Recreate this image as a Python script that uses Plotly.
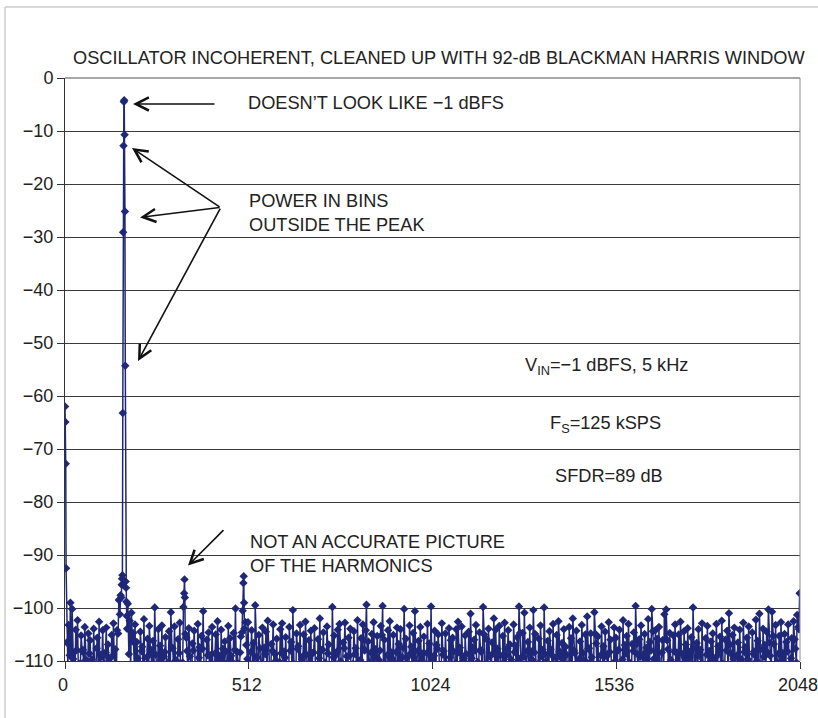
import plotly.graph_objects as go

# ---------------- data ----------------
# noise floor A: bins 5, 10, ..., 2045 (None = inside a tone)
NOISE_A_START, NOISE_A_STEP = 5, 5
noise_a_db = [
    -106.5, -103.2, -99.0, -100.2, -108.4, -104.1, -102.3, -110.6, -105.2, -107.9, -103.6, -112.4, -104.8, -106.1, -109.7, -103.9, -113.5, -105.6, -102.6, -108.8,
    -104.2, -111.3, -103.7, -106.9, -109.5, -105.1, -102.9, -107.8, -104.2, -98.5, -97.6, None, None, None, -99.2, -102.4, -100.9, -104.7, -103.1, -106.4,
    -110.2, -104.5, -107.3, -102.1, -115.0, -105.8, -103.4, -108.6, -106.2, -99.9, -111.9, -104.0, -107.1, -103.3, -109.2, -105.5, -113.8, -104.4, -100.8, -107.6,
    -103.5, -109.9, -105.9, -102.8, -112.7, -99.8, -104.9, -108.1, -103.8, -110.9, -106.7, -104.3, -116.2, -103.0, -107.4, -105.3, -100.6, -111.5, -106.0, -104.6,
    -108.9, -103.6, -114.4, -105.0, -102.5, -109.0, -104.1, -107.7, -106.3, -111.2, -103.4, -105.7, -110.1, -104.7, -100.1, -108.3, -113.1, -105.4, -100.5, -103.9,
    -107.0, -102.7, -110.4, -104.2, -106.6, -99.5, -109.4, -105.1, -112.9, -103.7, -107.5, -104.5, -102.4, -111.0, -106.8, -103.1, -108.7, -105.8, -115.3, -104.0,
    -102.9, -108.2, -105.5, -110.8, -103.6, -106.4, -100.4, -113.7, -104.8, -107.2, -103.2, -109.6, -105.0, -102.6, -111.6, -106.1, -104.3, -108.5, -103.8, -117.0,
    -105.9, -102.0, -107.9, -104.6, -110.3, -103.5, -106.9, -112.2, -99.8, -105.2, -108.8, -104.1, -103.0, -114.6, -106.5, -102.8, -109.1, -105.6, -103.9, -111.4,
    -104.4, -107.6, -102.3, -110.0, -105.7, -103.1, -108.0, -99.4, -106.3, -112.5, -104.9, -102.7, -107.8, -105.3, -109.8, -103.4, -99.6, -106.0, -113.2, -104.2,
    -102.5, -108.4, -105.1, -111.1, -103.7, -106.8, -104.0, -109.3, -100.2, -105.8, -115.8, -103.3, -107.3, -104.7, -100.6, -110.5, -106.2, -103.6, -108.6, -105.4,
    -112.0, -103.0, -106.7, -99.7, -109.7, -104.3, -107.0, -105.0, -113.9, -102.9, -108.1, -104.8, -110.7, -103.8, -106.1, -105.6, -111.8, -104.0, -102.6, -107.5,
    -103.5, -109.5, -105.2, -112.8, -104.5, -101.1, -107.4, -106.0, -103.2, -110.2, -104.6, -108.3, -99.8, -114.1, -105.9, -103.9, -109.0, -106.5, -102.0, -104.1,
    -107.7, -103.4, -111.3, -105.3, -102.8, -108.9, -104.2, -106.9, -116.5, -103.1, -107.1, -105.5, -99.7, -109.4, -104.7, -100.9, -110.9, -106.4, -103.7, -108.2,
    -100.4, -104.9, -112.3, -105.8, -103.3, -107.9, -99.9, -110.1, -106.2, -104.4, -108.8, -103.0, -113.4, -105.1, -102.5, -109.2, -106.6, -104.0, -107.3, -111.7,
    -103.6, -105.7, -102.0, -108.5, -104.3, -114.9, -106.3, -103.2, -109.8, -105.0, -101.6, -107.6, -104.8, -112.1, -100.8, -106.7, -105.4, -110.6, -103.5, -107.2,
    -104.5, -109.1, -102.7, -106.0, -111.5, -103.7, -105.6, -108.0, -104.1, -115.5, -102.3, -107.0, -105.3, -103.0, -110.4, -106.8, -104.6, -99.6, -108.7, -105.9,
    -103.3, -112.6, -104.9, -107.5, -102.1, -106.4, -100.2, -109.6, -104.2, -105.8, -103.6, -111.0, -106.1, -101.2, -100.3, -107.8, -104.7, -113.6, -105.2, -103.1,
    -108.4, -105.0, -102.6, -110.8, -104.4, -106.9, -103.8, -109.3, -105.5, -99.9, -114.0, -106.6, -104.0, -107.9, -102.9, -111.2, -105.7, -103.4, -108.1, -106.3,
    -104.8, -110.0, -103.0, -107.2, -105.4, -102.4, -112.9, -106.0, -104.3, -101.0, -108.6, -105.1, -103.7, -116.8, -106.5, -104.1, -109.7, -102.8, -107.4, -105.6,
    -103.5, -111.4, -104.6, -108.2, -102.2, -106.2, -101.1, -113.3, -103.9, -107.0, -104.5, -100.3, -109.0, -100.7, -106.8, -103.2, -110.3, -105.3, -102.7, -108.5,
    -104.9, -106.4, -103.1, -111.8, -105.7, -102.5, -107.7, -101.3, -104.0,
]

# noise floor B: bins 8, 13, ..., 2043 (None = inside a tone)
NOISE_B_START, NOISE_B_STEP = 8, 5
noise_b_db = [
    -111.5, -108.9, -114.2, -109.6, -112.8, -107.9, -115.6, -110.4, -108.2, -113.1, -109.8, -116.4, -108.6, -111.9, -110.7, -113.8, -107.6, -112.3, -114.9, -109.2,
    -112.6, -108.4, -115.1, -110.1, -113.4, -109.0, -111.2, -114.5, -104.8, -101.2, None, None, None, -103.9, -108.7, -112.1, -106.3, -110.9, -113.7, -109.5,
    -114.0, -108.1, -111.6, -116.9, -109.3, -112.9, -107.8, -115.3, -110.6, -108.8, -113.5, -111.0, -109.7, -117.2, -108.3, -112.4, -110.2, -114.7, -107.5, -111.8,
    -109.9, -113.2, -108.5, -115.8, -110.3, None, -105.6, -112.7, -109.1, -114.3, -108.0, -111.4, -116.1, -109.4, -112.0, -107.7, -114.8, -110.8, -108.9, -113.0,
    -111.1, -115.4, -108.6, -112.5, -109.7, -117.6, -110.0, -113.6, -108.2, -111.7, -114.1, -109.0, -112.2, -107.9, -115.9, -110.5, -108.4, -104.6, None, -102.7,
    -109.6, -113.9, -108.3, -111.5, -116.3, -109.2, -112.6, -107.6, -114.4, -110.7, -108.7, -113.3, -111.0, -115.0, -108.1, -112.8, -109.9, -116.7, -110.2, -108.5,
    -113.1, -109.4, -111.9, -115.5, -108.0, -112.3, -110.6, -114.6, -107.7, -111.3, -117.4, -109.1, -113.7, -108.8, -112.0, -110.4, -115.2, -108.4, -111.6, -114.0,
    -109.5, -112.9, -107.9, -116.0, -110.9, -108.6, -113.4, -111.2, -109.3, -115.7, -108.2, -112.5, -110.1, -114.9, -107.6, -111.8, -113.0, -109.0, -116.6, -110.5,
    -108.7, -112.1, -114.5, -109.8, -111.4, -107.8, -104.2, -113.6, -110.3, -108.4, -115.3, -111.0, -109.2, -112.7, -108.0, -105.1, -114.2, -110.7, -108.9, -113.3,
    -111.7, -109.6, -116.2, -108.3, -112.4, -110.0, -114.8, -107.5, -111.1, -109.4, -117.0, -108.6, -113.1, -110.8, -112.0, -108.1, -115.4, -109.9, -111.5, -113.8,
    -108.5, -112.6, -110.2, -115.6, -109.0, -113.5, -107.7, -111.9, -114.3, -108.8, -112.2, -110.6, -116.5, -109.3, -111.3, -108.2, -113.9, -110.9, -108.4, -115.1,
    -110.1, -113.2, -108.7, -111.6, -116.8, -109.5, -112.8, -108.0, -114.7, -110.4, -107.9, -113.0, -105.0, -111.2, -115.8, -109.1, -112.3, -108.6, -114.1, -110.8,
    -112.5, -108.9, -115.0, -110.3, -113.6, -107.6, -111.8, -109.7, -116.1, -108.3, -112.9, -110.0, -104.7, -114.4, -109.2, -111.4, -108.1, -113.3, -115.5, -109.8,
    -108.4, -112.0, -110.6, -114.6, -109.1, -116.4, -108.7, -111.5, -113.1, -107.8, -110.9, -115.2, -109.4, -112.7, -108.2, -114.0, -110.5, -111.9, -108.8, -116.9,
    -110.7, -113.4, -108.0, -111.1, -115.7, -109.6, -112.4, -108.5, -114.2, -110.2, -107.7, -113.8, -109.3, -111.7, -104.9, -112.6, -115.9, -108.9, -110.8, -113.0,
    -109.0, -114.5, -108.3, -111.3, -116.0, -110.0, -112.8, -107.9, -113.5, -109.7, -115.1, -108.6, -111.6, -110.4, -114.8, -108.1, -112.2, -106.8, -113.7, -109.2,
    -111.9, -108.7, -114.9, -110.6, -112.5, -108.0, -104.4, -113.2, -109.5, -111.0, -116.2, -108.4, -112.9, -105.8, -106.1, -114.3, -109.8, -111.4, -108.2, -115.3,
    -110.9, -113.6, -108.6, -112.1, -109.4, -116.7, -110.3, -108.1, -114.1, -111.5, -107.6, -113.0, -109.0, -115.6, -110.7, -112.6, -108.8, -114.6, -110.1, -111.8,
    -113.9, -109.3, -111.2, -108.5, -115.4, -110.5, -112.3, -108.0, -114.0, -106.9, -111.7, -109.6, -116.3, -108.9, -113.1, -110.2, -112.0, -108.3, -115.0, -109.7,
    -111.3, -114.7, -108.7, -112.4, -110.0, -113.7, -107.8, -115.8, -109.2, -111.6, -108.4, -106.5, -113.3, -105.3, -110.8, -112.9, -108.6, -114.4, -109.9, -111.0,
    -113.5, -108.2, -111.9, -109.5, -114.8, -105.9, -110.3, -103.6,
]

# DC leakage, fundamental, harmonics, last bin
feature_bins = [0, 1, 2, 3,
                157, 158, 159, 160, 161, 162, 163, 164, 165, 166, 167, 168, 169, 170, 171, 172,
                332, 333, 334,
                497, 498, 499,
                2047]
feature_db = [-62.0, -64.9, -72.8, -92.5,
              -98.0, -95.6, -94.5, -93.8, -63.2, -29.1, -12.8, -4.5, -4.2, -10.7, -25.2, -54.3, -95.0, -96.2, -98.8, -101.5,
              -97.2, -94.6, -98.0,
              -95.3, -94.0, -99.0,
              -97.2]

x_ticks = [0, 512, 1024, 1536, 2048]
y_ticks = [-110, -100, -90, -80, -70, -60, -50, -40, -30, -20, -10, 0]
y_ticktext = ["−110", "−100", "−90", "−80", "−70", "−60", "−50", "−40", "−30", "−20", "−10", "0"]

# ---------------- merge ----------------
pts = {}
for start, step, arr in ((NOISE_A_START, NOISE_A_STEP, noise_a_db),
                         (NOISE_B_START, NOISE_B_STEP, noise_b_db)):
    for i, v in enumerate(arr):
        if v is not None:
            pts[start + i * step] = v
for b, v in zip(feature_bins, feature_db):
    pts[b] = v
bins = sorted(pts)
vals = [pts[b] for b in bins]

NAVY = "#1f2878"
FONT = "Liberation Sans, Arial, sans-serif"
TXT = "#222222"

fig = go.Figure()
fig.add_trace(go.Scatter(
    x=bins, y=vals, mode="lines+markers",
    line=dict(color=NAVY, width=1.5),
    marker=dict(symbol="diamond", size=6.5, color=NAVY),
    cliponaxis=True, showlegend=False, hoverinfo="skip",
))

tickfont = dict(family=FONT, size=18, color=TXT)
fig.update_layout(
    width=818, height=718,
    margin=dict(l=65, r=18, t=78, b=57, autoexpand=False),
    paper_bgcolor="white", plot_bgcolor="white",
    font=dict(family=FONT, size=18, color=TXT),
    showlegend=False,
    xaxis=dict(range=[0, 2048], tickvals=x_ticks, ticktext=[str(t) for t in x_ticks],
               ticks="outside", ticklen=7, tickcolor="#333", showgrid=False,
               showline=True, linecolor="#333", linewidth=1, zeroline=False,
               automargin=False, ticklabeloverflow="allow", ticklabelshift=-2,
               tickfont=tickfont),
    yaxis=dict(range=[-110, 0], tickvals=y_ticks, ticktext=y_ticktext,
               ticks="outside", ticklen=7, tickcolor="#333",
               showgrid=True, gridcolor="#3a3a3a", gridwidth=1.3,
               showline=True, linecolor="#333", linewidth=1, zeroline=False,
               automargin=False, ticklabeloverflow="allow", tickfont=tickfont),
)

# plot frame (top and right, lighter) and outer border
fig.add_shape(type="line", xref="paper", yref="paper", x0=0, x1=1, y0=1, y1=1,
              line=dict(color="#8a8a8a", width=1.5))
fig.add_shape(type="line", xref="paper", yref="paper", x0=1, x1=1, y0=0, y1=1,
              line=dict(color="#8a8a8a", width=1))
fig.add_shape(type="line", xref="paper", yref="paper", x0=-0.0816, x1=-0.0816, y0=-0.1, y1=1.1218,
              line=dict(color="#cccccc", width=1.5))
fig.add_shape(type="line", xref="paper", yref="paper", x0=-0.0816, x1=1.03, y0=1.1218, y1=1.1218,
              line=dict(color="#cccccc", width=1.5))

fs = 18.2
# title
fig.add_annotation(xref="paper", yref="paper", x=0.509, y=1.034, xanchor="center", yanchor="middle",
                   text="OSCILLATOR INCOHERENT, CLEANED UP WITH 92-dB BLACKMAN HARRIS WINDOW",
                   showarrow=False, font=dict(size=fs, color=TXT))
# text labels
fig.add_annotation(x=504, y=-4.7, xanchor="left", yanchor="middle", showarrow=False,
                   text="DOESN’T LOOK LIKE −1 dBFS", font=dict(size=fs, color=TXT))
fig.add_annotation(x=506, y=-25.4, xanchor="left", yanchor="middle", showarrow=False, align="left",
                   text="POWER IN BINS<br>OUTSIDE THE PEAK", font=dict(size=fs, color=TXT))
fig.add_annotation(x=510, y=-89.9, xanchor="left", yanchor="middle", showarrow=False, align="left",
                   text="NOT AN ACCURATE PICTURE<br>OF THE HARMONICS", font=dict(size=fs, color=TXT))
fig.add_annotation(x=1510, y=-54.5, xanchor="center", yanchor="middle", showarrow=False,
                   text="V<sub>IN</sub>=−1 dBFS, 5 kHz", font=dict(size=fs, color=TXT))
fig.add_annotation(x=1505, y=-65.4, xanchor="center", yanchor="middle", showarrow=False,
                   text="F<sub>S</sub>=125 kSPS", font=dict(size=fs, color=TXT))
fig.add_annotation(x=1516, y=-75.0, xanchor="center", yanchor="middle", showarrow=False,
                   text="SFDR=89 dB", font=dict(size=fs, color=TXT))

# arrows: tip in data coords, tail as pixel offset
arrows = [
    (189.5, -4.9, 83, 0),
    (186.7, -13.2, 89, 60),
    (209.0, -26.3, 81, -10),
    (203.4, -53.4, 83, -154),
    (342.7, -92.0, 37, -37),
]
for x, y, ax, ay in arrows:
    fig.add_annotation(x=x, y=y, ax=ax, ay=ay, text="", showarrow=True,
                       arrowhead=5, arrowsize=1.6, arrowwidth=1.6, arrowcolor="#111",
                       standoff=0, startstandoff=0)

fig.write_html("out.html", config={"displayModeBar": False},
               post_script="document.body.style.margin='0px';")
